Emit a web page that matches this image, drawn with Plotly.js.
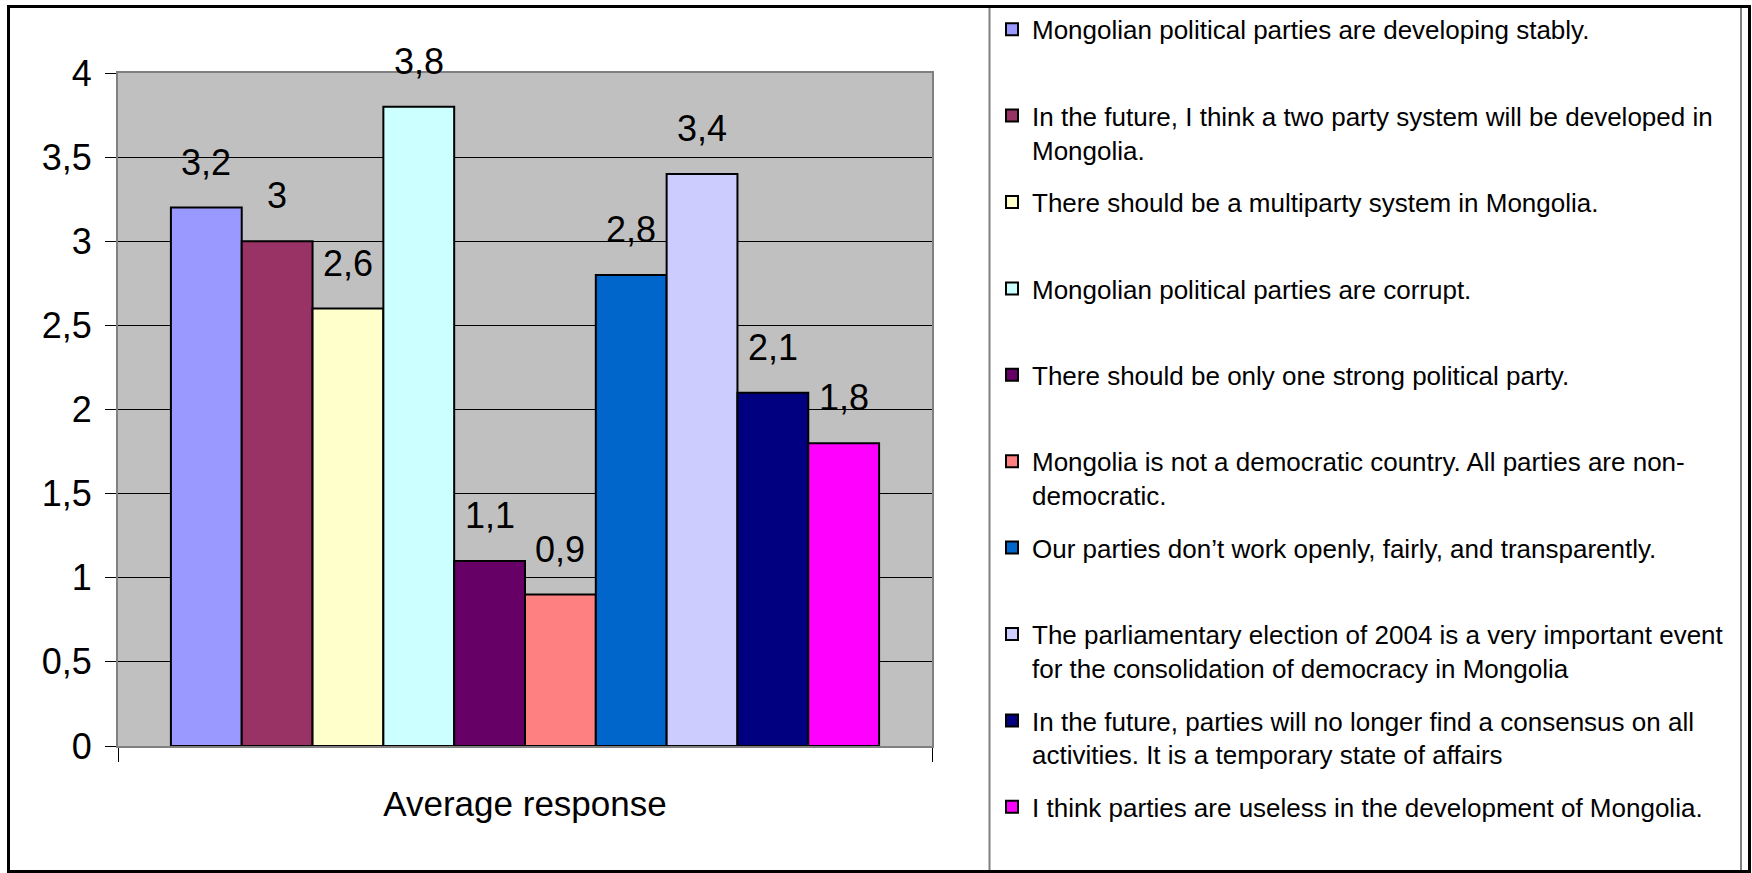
<!DOCTYPE html>
<html>
<head>
<meta charset="utf-8">
<script src="https://cdn.plot.ly/plotly-3.0.1.min.js"></script>
<style>
  html, body { margin: 0; padding: 0; background: #ffffff; }
  #chart { width: 1752px; height: 873px; }
</style>
</head>
<body>
<div id="chart"></div>
<script>
// ---- data ----
const category = ["Average response"];
const statements = [
  "Mongolian political parties are developing stably.",
  "In the future, I think a two party system will be developed in<br>Mongolia.",
  "There should be a multiparty system in Mongolia.",
  "Mongolian political parties are corrupt.",
  "There should be only one strong political party.",
  "Mongolia is not a democratic country. All parties are non-<br>democratic.",
  "Our parties don\u2019t work openly, fairly, and transparently.",
  "The parliamentary election of 2004 is a very important event<br>for the consolidation of democracy in Mongolia",
  "In the future, parties will no longer find a consensus on all<br>activities. It is a temporary state of affairs",
  "I think parties are useless in the development of Mongolia."
];
const values = [3.2, 3, 2.6, 3.8, 1.1, 0.9, 2.8, 3.4, 2.1, 1.8];
const colors = ["#9999FF", "#993366", "#FFFFCC", "#CCFFFF", "#660066",
                "#FF8080", "#0066CC", "#CCCCFF", "#000080", "#FF00FF"];
const yTicks = [0, 0.5, 1, 1.5, 2, 2.5, 3, 3.5, 4];

// ---- layout constants ----
const W = 1752, H = 873;
const plotL = 118, plotR = 932, plotT = 73, plotB = 746;
const bargap = 0.13;
const FONT = '"Liberation Sans", Arial, sans-serif';

const px2x = p => (p - plotL) / (plotR - plotL);
const px2y = p => (plotB - p) / (plotB - plotT);

const traces = values.map((v, i) => {
  const lines = statements[i].split("<br>").length;
  return {
    type: "bar",
    x: category,
    y: [v],
    name: lines < 2 ? statements[i] + "<br> " : statements[i],
    legendgroup: "g" + i,
    marker: { color: colors[i], line: { color: "#000000", width: 2 } },
    hoverinfo: "y+name"
  };
});

const n = values.length;
const bw = (1 - bargap) / n;
const annotations = values.map((v, i) => ({
  x: -(1 - bargap) / 2 + (i + 0.5) * bw,
  y: v,
  xref: "x", yref: "y",
  text: String(v).replace(".", ","),
  showarrow: false,
  xanchor: "center", yanchor: "bottom",
  yshift: 23,
  font: { family: FONT, size: 36, color: "#000000" }
}));

const shapes = [
  // legend box
  { type: "rect", xref: "paper", yref: "paper",
    x0: px2x(989.5), x1: px2x(1741), y0: px2y(6), y1: px2y(873),
    line: { color: "#808080", width: 2 }, fillcolor: "rgba(0,0,0,0)", layer: "above" },
  // outer frame
  { type: "rect", xref: "paper", yref: "paper",
    x0: px2x(8.5), x1: px2x(1749.5), y0: px2y(6.5), y1: px2y(871.5),
    line: { color: "#000000", width: 3 }, fillcolor: "rgba(0,0,0,0)", layer: "above" }
];

const layout = {
  width: W, height: H,
  paper_bgcolor: "#ffffff",
  plot_bgcolor: "#C0C0C0",
  separators: ", ",
  barmode: "group",
  bargap: bargap,
  bargroupgap: 0,
  margin: { l: plotL, r: W - plotR, t: plotT, b: H - plotB, autoexpand: false },
  font: { family: FONT, color: "#000000" },
  xaxis: {
    type: "category",
    tickson: "boundaries",
    ticks: "outside", ticklen: 14, tickwidth: 1, tickcolor: "#000000",
    showgrid: false,
    showline: true, linecolor: "#808080", linewidth: 2, mirror: true,
    tickfont: { family: FONT, size: 35, color: "#000000" },
    ticklabelstandoff: 26,
    fixedrange: true
  },
  yaxis: {
    range: [0, 4],
    tickvals: yTicks,
    ticks: "outside", ticklen: 11, tickwidth: 1, tickcolor: "#000000",
    showgrid: true, gridcolor: "#000000", gridwidth: 1,
    zeroline: false,
    showline: true, linecolor: "#808080", linewidth: 2, mirror: true,
    tickfont: { family: FONT, size: 36, color: "#000000" },
    ticklabelstandoff: 6,
    fixedrange: true
  },
  showlegend: true,
  legend: {
    xref: "container", yref: "container",
    x: 992 / W, y: 1 - 5.8 / H,
    xanchor: "left", yanchor: "top",
    traceorder: "grouped",
    tracegroupgap: 15.8,
    valign: "top",
    bgcolor: "rgba(0,0,0,0)",
    borderwidth: 0,
    maxheight: H,
    font: { family: FONT, size: 26, color: "#000000" }
  },
  annotations: annotations,
  shapes: shapes
};

Plotly.newPlot("chart", traces, layout, { displayModeBar: false, staticPlot: true });
</script>
</body>
</html>
